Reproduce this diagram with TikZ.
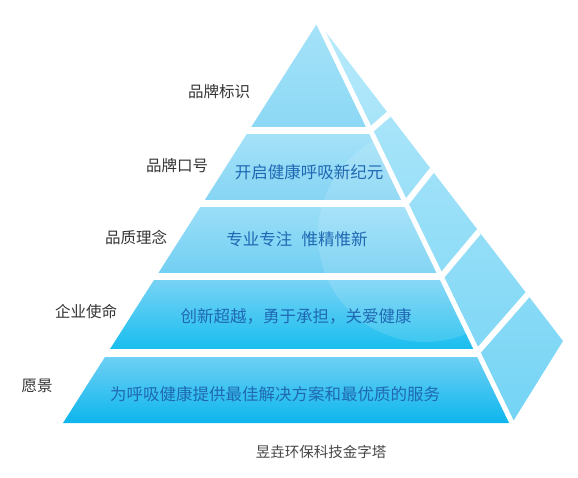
\documentclass[tikz,border=0pt]{standalone}
\usepackage{fontspec}
\usepackage{xcolor}
\usepackage{tikz}
\usetikzlibrary{calc}
\newfontfamily\cjk{Noto Sans CJK SC}
\definecolor{bandAt}{HTML}{ABE5F9}
\definecolor{bandAb}{HTML}{8CD8F5}
\definecolor{bandBt}{HTML}{A4E2F8}
\definecolor{bandBb}{HTML}{86D4F4}
\definecolor{bandCt}{HTML}{9ADEF7}
\definecolor{bandCb}{HTML}{72CFF3}
\definecolor{bandDt}{HTML}{76D2F5}
\definecolor{bandDb}{HTML}{1ABEEF}
\definecolor{bandEt}{HTML}{6ED0F4}
\definecolor{bandEb}{HTML}{02B3EC}
\definecolor{sidetop}{HTML}{BAEAFB}
\definecolor{sidebot}{HTML}{72D3F4}
\definecolor{txtblue}{HTML}{1F69B3}
\definecolor{lblgray}{HTML}{333333}
\tikzstyle{bandtext} = [font=\cjk\fontsize{16.5}{18}\selectfont, text=txtblue, inner sep=0pt]
\tikzstyle{tiertext} = [font=\cjk\fontsize{15.5}{17}\selectfont, text=lblgray, inner sep=0pt]
\tikzstyle{sidegap} = [white, line width=6pt]

\begin{document}
\begin{tikzpicture}[x=1pt,y=-1pt]
\useasboundingbox (0,0) rectangle (578,478);
\coordinate (apex) at (318,22);
\coordinate (baseL) at (63,423);
\coordinate (baseR) at (512,423);
\coordinate (backR) at (563,341);

% front face, one band per level
\begin{scope}
\clip (apex) -- (baseL) -- (baseR) -- cycle;
\foreach \ya/\yb/\ct/\cb in {0/127/bandAt/bandAb, 135/200/bandBt/bandBb,
  208/273/bandCt/bandCb, 281/348/bandDt/bandDb, 357/430/bandEt/bandEb}
  \shade[top color=\ct, bottom color=\cb] (0,\ya) rectangle (578,\yb);
\fill[white, opacity=0.13] (425,235) circle (107);
\end{scope}

% side face
\begin{scope}
\clip (apex) -- (baseR) -- (backR) -- cycle;
\shade[top color=sidetop, bottom color=sidebot] (300,15) rectangle (578,430);
\foreach \t/\s in {0.27/0.289, 0.4525/0.465, 0.635/0.657, 0.8225/0.855} {
  \coordinate (sa) at ($(apex)!\t!(baseR)$);
  \coordinate (sb) at ($(apex)!\s!(backR)$);
  \draw[sidegap] ($(sa)!-15pt!(sb)$) -- ($(sb)!-15pt!(sa)$);
}
\end{scope}
\draw[white, line width=5pt] (apex) -- ($(apex)!1.02!(baseR)$);

% texts on the levels
\node[bandtext] (slogan) at (309,172) {开启健康呼吸新纪元};
\node[bandtext] (idea) at (297,239) {专业专注\hspace{0.55em}惟精惟新};
\node[bandtext] (mission) at (296,316) {创新超越，勇于承担，关爱健康};
\node[bandtext] (vision) at (275,394) {为呼吸健康提供最佳解决方案和最优质的服务};

% level names
\node[tiertext] (brandmark) at (219,92) {品牌标识};
\node[tiertext] (brandslogan) at (177,166) {品牌口号};
\node[tiertext] (quality) at (136,237) {品质理念};
\node[tiertext] (corpmission) at (86,312) {企业使命};
\node[tiertext] (corpvision) at (37,386) {愿景};

\node[tiertext, font=\cjk\fontsize{14.5}{16}\selectfont, text=lblgray!90] (caption) at (321,452) {昱垚环保科技金字塔};
\end{tikzpicture}
\end{document}
